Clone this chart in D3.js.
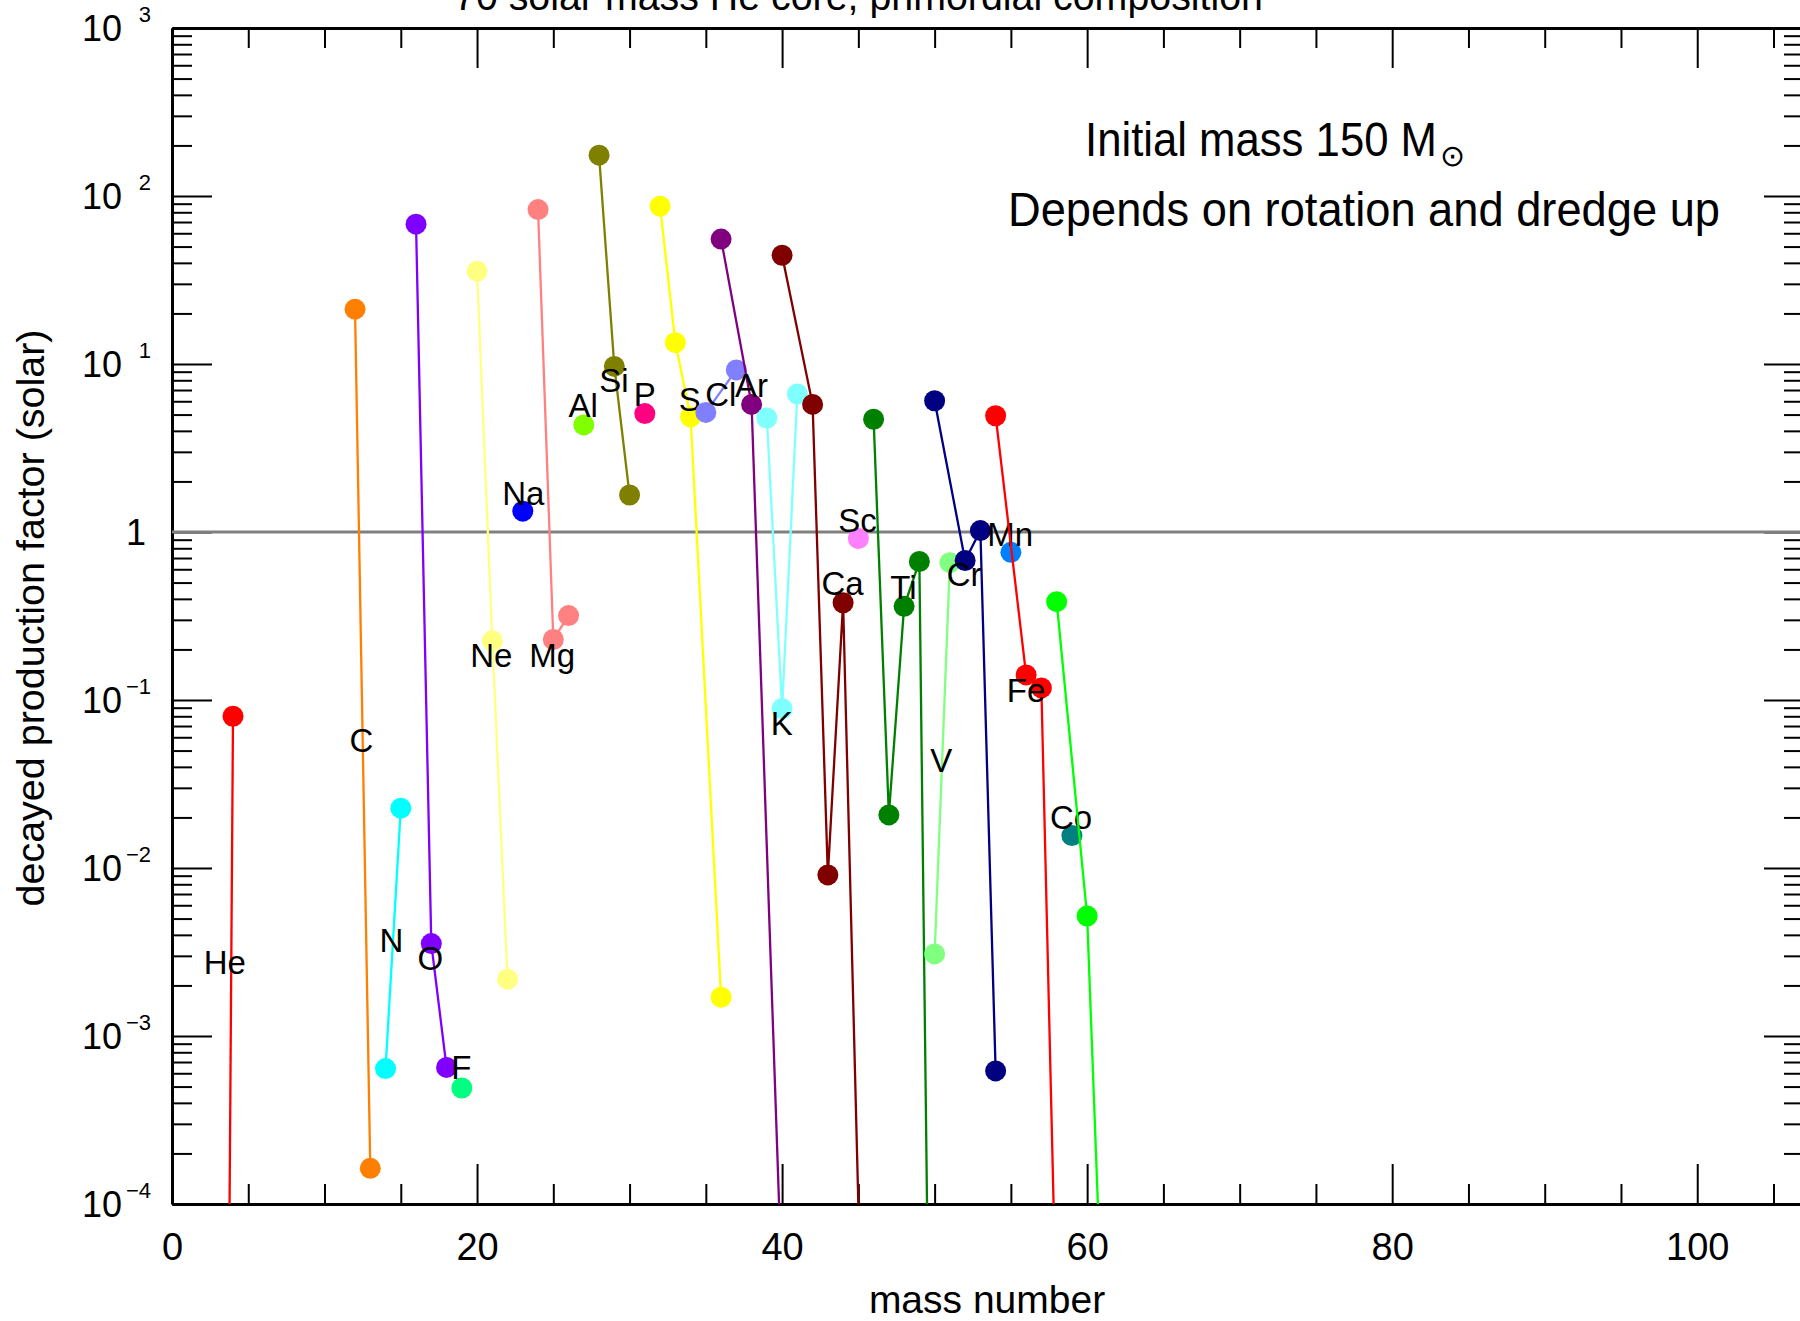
<!DOCTYPE html>
<html>
<head>
<meta charset="utf-8">
<script src="https://cdn.jsdelivr.net/npm/d3@7"></script>
<style>
  body { margin: 0; background: #fff; }
  svg { display: block; }
  text { font-family: "Liberation Sans", Arial, Helvetica, sans-serif; }
</style>
</head>
<body>
<svg id="svg"></svg>
<script>
// element names, in Z order (drawing order)
var elements = ["He", "C", "N", "O", "F", "Ne", "Na", "Mg", "Al", "Si", "P", "S",
                "Cl", "Ar", "K", "Ca", "Sc", "Ti", "V", "Cr", "Mn", "Fe", "Co", "Ni"];

var colors = ["#ff0000", "#ff8000", "#00ffff", "#8000ff", "#00ff80", "#ffff80", "#0000ff",
              "#ff8080", "#80ff00", "#808000", "#ff0080", "#ffff00", "#8080ff", "#800080",
              "#80ffff", "#800000", "#ff80ff", "#008000", "#80ff80", "#000080", "#0080ff",
              "#ff0000", "#008080", "#00ff00"];

// isotope mass numbers per element
var isoA = [
  [3, 4], [12, 13], [14, 15], [16, 17, 18], [19], [20, 21, 22], [23], [24, 25, 26],
  [27], [28, 29, 30], [31], [32, 33, 34, 36], [35, 37], [36, 38, 40], [39, 40, 41],
  [40, 42, 43, 44, 46], [45], [46, 47, 48, 49, 50], [50, 51], [50, 52, 53, 54], [55],
  [54, 56, 57, 58], [59], [58, 60, 61]
];

// decayed production factors (solar) per isotope
var isoF = [
  [1e-14, 0.080], [21.2, 1.63e-4], [6.4e-4, 0.0227], [68, 3.55e-3, 6.5e-4], [4.9e-4],
  [35.7, 0.225, 2.18e-3], [1.33], [83, 0.229, 0.318], [4.34], [175, 9.67, 1.66], [5.07],
  [87, 13.4, 4.84, 1.7e-3], [5.15, 9.22], [55.4, 5.75, 3e-5], [4.77, 0.089, 6.63],
  [44.4, 5.75, 9.1e-3, 0.379, 2.6e-8], [0.914], [4.69, 0.0207, 0.361, 0.667, 1.6e-8],
  [3.08e-3, 0.657], [6.04, 0.677, 1.02, 6.2e-4], [0.757], [4.92, 0.141, 0.118, 1.7e-5],
  [0.0156], [0.385, 5.18e-3, 1.9e-5]
];

// where each element name sits (mass number, factor)
var labelA = [3.46, 12.42, 14.38, 16.94, 18.97, 20.93, 23.03, 24.92, 26.95, 28.98, 31.0, 33.95,
              35.98, 38.0, 39.97, 43.96, 44.94, 47.95, 50.43, 51.94, 54.95, 56.0, 58.94, null];
var labelF = [2.76e-3, 0.0574, 3.72e-3, 2.9e-3, 6.5e-4, 0.184, 1.71, 0.184, 5.66, 8.0, 6.64, 6.22,
              6.64, 7.52, 0.0726, 0.495, 1.175, 0.472, 0.044, 0.561, 0.973, 0.115, 0.02, null];

var xDomain = [0, 107];
var yDomain = [1e-4, 1e3];
var xMajor = [0, 20, 40, 60, 80, 100];
var decades = [-4, -3, -2, -1, 0, 1, 2, 3];

var title = "70 solar mass He core, primordial composition";
var note1 = "Initial mass 150 M";
var note2 = "Depends on rotation and dredge up";

// ---- layout
var width = 1800, height = 1321;
var mLeft = 172, mRight = 1804, mTop = 28, mBottom = 1204;
var dotRadius = 10.5;

var svg = d3.select("#svg").attr("width", width).attr("height", height);
svg.append("rect").attr("width", width).attr("height", height).attr("fill", "#fff");

var x = d3.scaleLinear().domain(xDomain).range([mLeft, mRight]);
var y = d3.scaleLog().domain(yDomain).range([mBottom, mTop]);

svg.append("clipPath").attr("id", "plotclip")
  .append("rect")
    .attr("x", mLeft).attr("y", mTop)
    .attr("width", mRight - mLeft).attr("height", mBottom - mTop);

// minor ticks
var xMinor = d3.range(0, 107, 5).filter(function(v) { return v % 20 != 0; });
var yMinor = [];
decades.slice(0, -1).forEach(function(e) {
  for (var k = 2; k <= 9; k++) yMinor.push(k * Math.pow(10, e));
});

function styleAxis(g, w) {
  g.select(".domain").attr("stroke", "#000").attr("stroke-width", w);
  g.selectAll(".tick line").attr("stroke", "#000").attr("stroke-width", 2);
}

// bottom
var gb = svg.append("g").attr("transform", "translate(0," + mBottom + ")")
  .call(d3.axisBottom(x).tickValues(xMajor).tickSizeInner(-40).tickSizeOuter(0).tickPadding(29));
styleAxis(gb, 3);
gb.selectAll(".tick text").attr("font-size", 38).attr("fill", "#000")
  .attr("font-family", "Liberation Sans, Arial, sans-serif");
svg.append("g").attr("transform", "translate(0," + mBottom + ")")
  .call(d3.axisBottom(x).tickValues(xMinor).tickSizeInner(-20).tickSizeOuter(0).tickFormat(""))
  .call(styleAxis, 0);

// top
var gt = svg.append("g").attr("transform", "translate(0," + mTop + ")")
  .call(d3.axisTop(x).tickValues(xMajor).tickSizeInner(-40).tickSizeOuter(0).tickFormat(""));
styleAxis(gt, 3);
svg.append("g").attr("transform", "translate(0," + mTop + ")")
  .call(d3.axisTop(x).tickValues(xMinor).tickSizeInner(-20).tickSizeOuter(0).tickFormat(""))
  .call(styleAxis, 0);

// left
var decadeVals = decades.map(function(e) { return Math.pow(10, e); });
var gl = svg.append("g").attr("transform", "translate(" + mLeft + ",0)")
  .call(d3.axisLeft(y).tickValues(decadeVals).tickSizeInner(-40).tickSizeOuter(0).tickPadding(50)
    .tickFormat(function(d) { return Math.round(Math.log10(d)) == 0 ? "1" : "10"; }));
styleAxis(gl, 3);
gl.selectAll(".tick text")
  .attr("font-size", 36).attr("fill", "#000")
  .attr("font-family", "Liberation Sans, Arial, sans-serif")
  .attr("x", function(d) { return Math.round(Math.log10(d)) == 0 ? -26 : -50; })
  .attr("dy", "0.34em");
gl.selectAll(".tick").filter(function(d) { return Math.round(Math.log10(d)) != 0; })
  .append("text")
    .attr("x", -21)
    .attr("y", -7)
    .attr("text-anchor", "end")
    .attr("font-size", 22)
    .attr("fill", "#000")
    .text(function(d) {
      var e = Math.round(Math.log10(d));
      return e < 0 ? "\u2212" + (-e) : "" + e;
    });
svg.append("g").attr("transform", "translate(" + mLeft + ",0)")
  .call(d3.axisLeft(y).tickValues(yMinor).tickSizeInner(-20).tickSizeOuter(0).tickFormat(""))
  .call(styleAxis, 0);

// right
var gr = svg.append("g").attr("transform", "translate(" + mRight + ",0)")
  .call(d3.axisRight(y).tickValues(decadeVals).tickSizeInner(-40).tickSizeOuter(0).tickFormat(""));
styleAxis(gr, 3);
svg.append("g").attr("transform", "translate(" + mRight + ",0)")
  .call(d3.axisRight(y).tickValues(yMinor).tickSizeInner(-20).tickSizeOuter(0).tickFormat(""))
  .call(styleAxis, 0);

// solar line
svg.append("line")
  .attr("x1", mLeft).attr("x2", mRight)
  .attr("y1", y(1)).attr("y2", y(1))
  .attr("stroke", "#808080").attr("stroke-width", 3);

// ---- data
var plot = svg.append("g");
var line = d3.line()
  .x(function(d) { return x(d[0]); })
  .y(function(d) { return y(d[1]); });

elements.forEach(function(el, i) {
  var pts = isoA[i].map(function(a, j) { return [a, isoF[i][j]]; });
  var g = plot.append("g").attr("class", "el-" + el);
  if (pts.length > 1) {
    g.append("path")
      .attr("clip-path", "url(#plotclip)")
      .attr("d", line(pts))
      .attr("fill", "none")
      .attr("stroke", colors[i])
      .attr("stroke-width", 2.3);
  }
  g.selectAll("circle")
    .data(pts.filter(function(d) { return d[1] >= yDomain[0] && d[1] <= yDomain[1]; }))
    .enter().append("circle")
      .attr("cx", function(d) { return x(d[0]); })
      .attr("cy", function(d) { return y(d[1]); })
      .attr("r", dotRadius)
      .attr("fill", colors[i]);
  if (labelA[i] != null) {
    g.append("text")
      .attr("x", x(labelA[i]))
      .attr("y", y(labelF[i]))
      .attr("dy", "0.36em")
      .attr("text-anchor", "middle")
      .attr("font-size", 33)
      .attr("fill", "#000")
      .text(el);
  }
});

// ---- texts
svg.append("text")
  .attr("x", 454).attr("y", 9.5)
  .attr("font-size", 40)
  .attr("textLength", 809).attr("lengthAdjust", "spacingAndGlyphs")
  .text(title);

svg.append("text")
  .attr("x", 1085).attr("y", 156)
  .attr("font-size", 48)
  .attr("textLength", 352).attr("lengthAdjust", "spacingAndGlyphs")
  .text(note1);
svg.append("text")
  .attr("x", 1452).attr("y", 166)
  .attr("text-anchor", "middle")
  .attr("font-family", "DejaVu Sans, sans-serif")
  .attr("font-size", 30)
  .text("\u2299");

svg.append("text")
  .attr("x", 1008).attr("y", 226)
  .attr("font-size", 48)
  .attr("textLength", 712).attr("lengthAdjust", "spacingAndGlyphs")
  .text(note2);

svg.append("text")
  .attr("x", 987).attr("y", 1313)
  .attr("text-anchor", "middle")
  .attr("font-size", 39)
  .text("mass number");

svg.append("text")
  .attr("transform", "translate(44,618) rotate(-90)")
  .attr("text-anchor", "middle")
  .attr("font-size", 39)
  .attr("textLength", 577).attr("lengthAdjust", "spacingAndGlyphs")
  .text("decayed production factor (solar)");
</script>
</body>
</html>
